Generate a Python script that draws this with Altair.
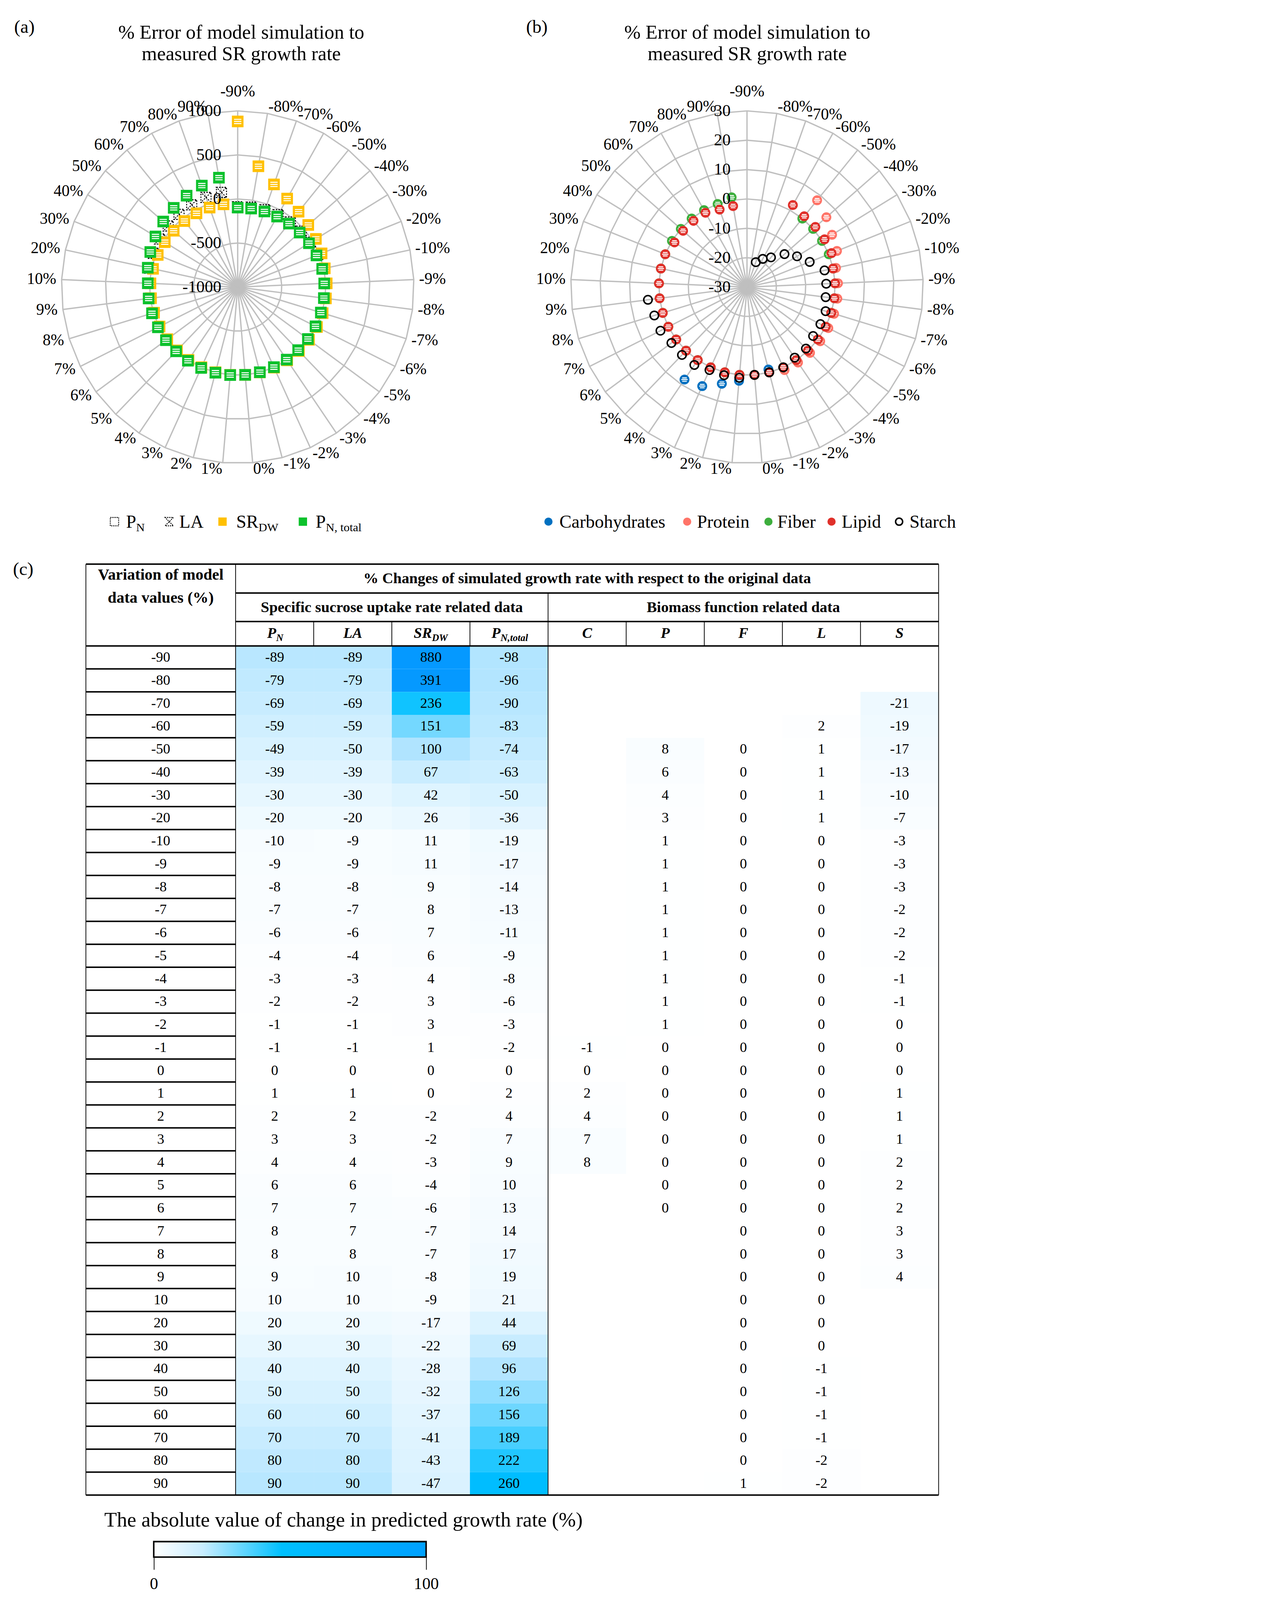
import altair as alt
import pandas as pd

N = None
variation = [-90, -80, -70, -60, -50, -40, -30, -20, -10,
             -9, -8, -7, -6, -5, -4, -3, -2, -1,
             0,
             1, 2, 3, 4, 5, 6, 7, 8, 9,
             10, 20, 30, 40, 50, 60, 70, 80, 90]
PN = [-89, -79, -69, -59, -49, -39, -30, -20, -10,
      -9, -8, -7, -6, -4, -3, -2, -1, -1,
      0,
      1, 2, 3, 4, 6, 7, 8, 8, 9,
      10, 20, 30, 40, 50, 60, 70, 80, 90]
LA = [-89, -79, -69, -59, -50, -39, -30, -20, -9,
      -9, -8, -7, -6, -4, -3, -2, -1, -1,
      0,
      1, 2, 3, 4, 6, 7, 7, 8, 10,
      10, 20, 30, 40, 50, 60, 70, 80, 90]
SR_DW = [880, 391, 236, 151, 100, 67, 42, 26, 11,
         11, 9, 8, 7, 6, 4, 3, 3, 1,
         0,
         0, -2, -2, -3, -4, -6, -7, -7, -8,
         -9, -17, -22, -28, -32, -37, -41, -43, -47]
PN_total = [-98, -96, -90, -83, -74, -63, -50, -36, -19,
            -17, -14, -13, -11, -9, -8, -6, -3, -2,
            0,
            2, 4, 7, 9, 10, 13, 14, 17, 19,
            21, 44, 69, 96, 126, 156, 189, 222, 260]
Carbohydrates = [N, N, N, N, N, N, N, N, N,
                 N, N, N, N, N, N, N, N, -1,
                 0,
                 2, 4, 7, 8, N, N, N, N, N,
                 N, N, N, N, N, N, N, N, N]
Protein = [N, N, N, N, 8, 6, 4, 3, 1,
           1, 1, 1, 1, 1, 1, 1, 1, 0,
           0,
           0, 0, 0, 0, 0, 0, N, N, N,
           N, N, N, N, N, N, N, N, N]
Fiber = [N, N, N, N, 0, 0, 0, 0, 0,
         0, 0, 0, 0, 0, 0, 0, 0, 0,
         0,
         0, 0, 0, 0, 0, 0, 0, 0, 0,
         0, 0, 0, 0, 0, 0, 0, 0, 1]
Lipid = [N, N, N, 2, 1, 1, 1, 1, 0,
         0, 0, 0, 0, 0, 0, 0, 0, 0,
         0,
         0, 0, 0, 0, 0, 0, 0, 0, 0,
         0, 0, 0, -1, -1, -1, -1, -2, -2]
Starch = [N, N, -21, -19, -17, -13, -10, -7, -3,
          -3, -3, -2, -2, -2, -1, -1, 0, 0,
          0,
          1, 1, 1, 2, 2, 2, 3, 3, 4,
          N, N, N, N, N, N, N, N, N]

category_labels = [f"{v}%" for v in variation]
rings_a = [-1000, -500, 0, 500, 1000]
rings_b = [-30, -20, -10, 0, 10, 20, 30]
title_lines = ["% Error of model simulation to", "measured SR growth rate"]
legend_b_names = ["Carbohydrates", "Protein", "Fiber", "Lipid", "Starch"]
legend_a_main = ["P", "LA", "SR", "P"]
legend_a_sub = ["N", "", "DW", "N, total"]
col_main = ["P", "LA", "SR", "P", "C", "P", "F", "L", "S"]
col_sub = ["N", "", "DW", "N,total", "", "", "", "", ""]
header_first = ["Variation of model", "data values (%)"]
header_top = "% Changes of simulated growth rate with respect to the original data"
header_groups = ["Specific sucrose uptake rate related data", "Biomass function related data"]
cbar_title = "The absolute value of change in predicted growth rate (%)"
cbar_ticks = [0, 100]

# ---------------- styling constants ----------------
S = 0.762          # overall drawing scale (keeps the whole figure inside the photographed area)
FONT = "Liberation Serif"
GRID = "#BFBFBF"
YELLOW = "#FFC000"
GREEN = "#0CC12C"
BLUE = "#0070C0"
SALMON = "#FF7468"
FGREEN = "#3DAE3D"
RED = "#E0302A"
NCAT = len(variation)
R_PX = 592.0
W_TOP, H_TOP = 1629, 1870
SQ_STRIPES = "M-0.72,-0.42H0.72M-0.72,0H0.72M-0.72,0.42H0.72"
CI_STRIPES = "M-0.55,-0.4H0.55M-0.74,0H0.74M-0.55,0.4H0.55"
HOURGLASS = "M-1,-1L1,-1L-1,1L1,1Z"
LABEL_GAP = 18


def px(v):
    return v * S


def area(v):
    return v * S * S


def long_df(series):
    rows = []
    for name, vals in series:
        for i, v in enumerate(vals):
            if v is not None:
                rows.append({"series": name, "idx": i, "value": v})
    return pd.DataFrame(rows)


def one_text(t, x, y, size, **kw):
    return (alt.Chart(pd.DataFrame({"t": [t]}))
            .mark_text(font=FONT, fontSize=px(size), color="black", **kw)
            .encode(x=alt.value(px(x)), y=alt.value(px(y)), text="t:N"))


def one_point(x, y, **kw):
    return (alt.Chart(pd.DataFrame({"t": [0]}))
            .mark_point(opacity=1, **kw)
            .encode(x=alt.value(px(x)), y=alt.value(px(y))))


def radar(series, styles, vmin, vmax, rings, cx, cy, title_x, tag, tag_x, extra):
    xs = alt.Scale(domain=[-cx / R_PX, (W_TOP - cx) / R_PX], nice=False, zero=False)
    ys = alt.Scale(domain=[-(H_TOP - cy) / R_PX, cy / R_PX], nice=False, zero=False)

    def X(f):
        return alt.X(f"{f}:Q", scale=xs, axis=None)

    def Y(f):
        return alt.Y(f"{f}:Q", scale=ys, axis=None)

    theta = f"datum.idx * 2 * PI / {NCAT}"
    span = vmax - vmin
    cat_df = pd.DataFrame({"idx": list(range(NCAT)), "label": category_labels})

    spokes = (alt.Chart(cat_df)
              .transform_calculate(th=theta)
              .transform_calculate(sx="sin(datum.th)")
              .transform_calculate(sy="cos(datum.th)")
              .transform_calculate(z="0")
              .mark_rule(color=GRID, strokeWidth=px(4.5))
              .encode(x=X("z"), y=Y("z"), x2="sx:Q", y2="sy:Q"))

    ring_rows = [{"ring": v, "idx": i} for v in rings if v > vmin for i in range(NCAT + 1)]
    ring_lines = (alt.Chart(pd.DataFrame(ring_rows))
                  .transform_calculate(th=theta)
                  .transform_calculate(r=f"(datum.ring - ({vmin})) / {span}")
                  .transform_calculate(x="datum.r * sin(datum.th)")
                  .transform_calculate(y="datum.r * cos(datum.th)")
                  .mark_line(color=GRID, strokeWidth=px(4.5))
                  .encode(x=X("x"), y=Y("y"), detail="ring:N", order="idx:Q"))

    ring_labels = (alt.Chart(pd.DataFrame({"ring": rings, "lab": [str(v) for v in rings]}))
                   .transform_calculate(r=f"(datum.ring - ({vmin})) / {span}")
                   .transform_calculate(z="0")
                   .mark_text(font=FONT, fontSize=px(56), align="right", dx=px(-55), color="black")
                   .encode(x=X("z"), y=Y("r"), text="lab:N"))

    ra = 1 + LABEL_GAP / R_PX
    sl_base = (alt.Chart(cat_df)
               .transform_calculate(th=theta)
               .transform_calculate(s="sin(datum.th)")
               .transform_calculate(c="cos(datum.th)")
               .transform_calculate(x=f"{ra} * datum.s")
               .transform_calculate(
                   y=f"{ra} * datum.c + (4 * datum.c + (datum.idx == 0 ? 42 : 0)) / {R_PX}"))
    spoke_labels = []
    for cond, al in [("datum.s > 0.001", "left"), ("datum.s < -0.001", "right"),
                     ("abs(datum.s) <= 0.001", "center")]:
        spoke_labels.append(sl_base.transform_filter(cond)
                            .mark_text(font=FONT, fontSize=px(54), color="black", align=al)
                            .encode(x=X("x"), y=Y("y"), text="label:N"))

    base = (alt.Chart(long_df(series))
            .transform_calculate(th=theta)
            .transform_calculate(r=f"(datum.value - ({vmin})) / {span}")
            .transform_calculate(x="datum.r * sin(datum.th)")
            .transform_calculate(y="datum.r * cos(datum.th)"))
    point_layers = []
    for name, mark_list in styles:
        for mk in mark_list:
            point_layers.append(base.transform_filter(alt.datum.series == name)
                                .mark_point(opacity=1, **mk)
                                .encode(x=X("x"), y=Y("y")))

    texts = [one_text(title_lines[0], title_x, 100, 66),
             one_text(title_lines[1], title_x, 172, 66),
             one_text(tag, tag_x, 82, 62, align="left")]

    return alt.layer(spokes, ring_lines, *point_layers, ring_labels, *spoke_labels,
                     *texts, *extra).properties(width=px(W_TOP), height=px(H_TOP))


# ---------- panel (a) ----------
sq = area(1156)
dash = [px(5), px(4)]
styles_a = [
    ("PN", [dict(shape="square", filled=False, stroke="black", strokeWidth=px(3),
                 strokeDash=dash, size=sq)]),
    ("LA", [dict(shape=HOURGLASS, filled=False, stroke="black", strokeWidth=px(3),
                 strokeDash=dash, size=sq)]),
    ("SR", [dict(shape="square", filled=True, fill=YELLOW, stroke=YELLOW, strokeWidth=px(5), size=sq),
            dict(shape=SQ_STRIPES, filled=False, stroke="white", strokeWidth=px(3.5), size=sq)]),
    ("PNT", [dict(shape="square", filled=True, fill=GREEN, stroke=GREEN, strokeWidth=px(5), size=sq),
             dict(shape=SQ_STRIPES, filled=False, stroke="white", strokeWidth=px(3.5), size=sq)]),
]
LEG_Y = 1742
leg_a = [
    one_point(374, LEG_Y, shape="square", filled=False, stroke="black", strokeWidth=px(3),
              strokeDash=[px(4), px(3)], size=area(784)),
    one_text(legend_a_main[0], 413, LEG_Y + 20, 61, align="left", baseline="alphabetic"),
    one_text(legend_a_sub[0], 447, LEG_Y + 32, 40, align="left", baseline="alphabetic"),
    one_point(558, LEG_Y, shape=HOURGLASS, filled=False, stroke="black", strokeWidth=px(3),
              strokeDash=[px(4), px(3)], size=area(784)),
    one_text(legend_a_main[1], 592, LEG_Y + 20, 61, align="left", baseline="alphabetic"),
    one_point(737, LEG_Y, shape="square", filled=True, fill=YELLOW, strokeWidth=0, size=area(784)),
    one_text(legend_a_main[2], 783, LEG_Y + 20, 61, align="left", baseline="alphabetic"),
    one_text(legend_a_sub[2], 858, LEG_Y + 32, 40, align="left", baseline="alphabetic"),
    one_point(1007, LEG_Y, shape="square", filled=True, fill=GREEN, strokeWidth=0, size=area(784)),
    one_text(legend_a_main[3], 1050, LEG_Y + 20, 61, align="left", baseline="alphabetic"),
    one_text(legend_a_sub[3], 1084, LEG_Y + 32, 40, align="left", baseline="alphabetic"),
]
radar_a = radar([("PN", PN), ("LA", LA), ("SR", SR_DW), ("PNT", PN_total)], styles_a,
                -1000, 1000, rings_a, 788, 954, 800, "(a)", 37, leg_a)

# ---------- panel (b) ----------
cs = area(800)


def filled_circle(color):
    return [dict(shape="circle", filled=True, fill=color, stroke=color, strokeWidth=px(5), size=cs),
            dict(shape=CI_STRIPES, filled=False, stroke="white", strokeWidth=px(3.5), size=cs)]


styles_b = [
    ("C", filled_circle(BLUE)),
    ("P", filled_circle(SALMON)),
    ("F", filled_circle(FGREEN)),
    ("L", filled_circle(RED)),
    ("S", [dict(shape="circle", filled=False, stroke="black", strokeWidth=px(5), size=cs)]),
]
leg_b = []
leg_b_pos = [(202, 239, BLUE), (668, 701, SALMON), (941, 971, FGREEN), (1153, 1187, RED),
             (1380, 1415, None)]
for name, (mx, tx, colr) in zip(legend_b_names, leg_b_pos):
    if colr is None:
        leg_b.append(one_point(mx, LEG_Y, shape="circle", filled=False, stroke="black",
                               strokeWidth=px(5), size=area(560)))
    else:
        leg_b.append(one_point(mx, LEG_Y, shape="circle", filled=True, fill=colr,
                               strokeWidth=0, size=area(750)))
    leg_b.append(one_text(name, tx, LEG_Y + 20, 61, align="left", baseline="alphabetic"))

radar_b = radar([("C", Carbohydrates), ("P", Protein), ("F", Fiber), ("L", Lipid), ("S", Starch)],
                styles_b, -30, 30, rings_b, 869, 954, 870, "(b)", 127, leg_b)

# ---------- panel (c): table ----------
COLW, ROWH = 262.4, 77.1
FW = 503 / COLW
H1, H2, H3 = 97 / ROWH, 96 / ROWH, 82 / ROWH
Y0 = -(H1 + H2 + H3)
Y1 = -(H2 + H3)
Y2 = -H3
NR = len(variation)
NC = 9
W_TAB, H_TAB = 3258, 3150
X_LEFT_PX, Y_TOP_PX = 781, 12
ymin = Y0 - Y_TOP_PX / ROWH
xs_t = alt.Scale(domain=[-X_LEFT_PX / COLW, (W_TAB - X_LEFT_PX) / COLW], nice=False, zero=False)
ys_t = alt.Scale(domain=[ymin, ymin + H_TAB / ROWH], nice=False, zero=False, reverse=True)


def XT(f):
    return alt.X(f"{f}:Q", scale=xs_t, axis=None)


def YT(f):
    return alt.Y(f"{f}:Q", scale=ys_t, axis=None)


table_cols = [PN, LA, SR_DW, PN_total, Carbohydrates, Protein, Fiber, Lipid, Starch]
cells = [dict(c=c, r=r, v=abs(v), t=str(v))
         for c, col in enumerate(table_cols) for r, v in enumerate(col) if v is not None]
cell_base = (alt.Chart(pd.DataFrame(cells))
             .transform_calculate(x0="datum.c", x1="datum.c + 1", y0="datum.r", y1="datum.r + 1",
                                  xc="datum.c + 0.5", yc="datum.r + 0.5"))
cscale = alt.Scale(domain=[0, 100, 250, 391],
                   range=["#ffffff", "#b0e4ff", "#00c0ff", "#0599ff"],
                   clamp=True, interpolate="rgb")
cell_rects = cell_base.mark_rect().encode(
    x=XT("x0"), x2="x1:Q", y=YT("y0"), y2="y1:Q",
    color=alt.Color("v:Q", scale=cscale, legend=None))
cell_texts = cell_base.mark_text(font=FONT, fontSize=px(48), color="black").encode(
    x=XT("xc"), y=YT("yc"), text="t:N")

row_df = pd.DataFrame({"r": list(range(NR)), "t": [str(v) for v in variation]})
row_texts = (alt.Chart(row_df)
             .transform_calculate(xc=f"{-FW / 2}", yc="datum.r + 0.5")
             .mark_text(font=FONT, fontSize=px(48), color="black")
             .encode(x=XT("xc"), y=YT("yc"), text="t:N"))

segs = []


def seg(x0, x1, y0, y1, w):
    segs.append(dict(x0=x0, x1=x1, y0=y0, y1=y1, w=w))


THICK, THIN = px(5), px(2.5)
seg(-FW, NC, Y0, Y0, THICK)
seg(0, NC, Y1, Y1, THICK)
seg(0, NC, Y2, Y2, THICK)
seg(-FW, NC, 0, 0, THICK)
for r in range(1, NR):
    seg(-FW, 0, r, r, THICK)
seg(-FW, NC, NR, NR, THICK)
seg(-FW, -FW, Y0, NR, THIN)
seg(0, 0, Y0, NR, THIN)
seg(NC, NC, Y0, NR, THIN)
seg(4, 4, Y1, NR, THIN)
for c in [1, 2, 3, 5, 6, 7, 8]:
    seg(c, c, Y2, 0, THIN)
grid_rules = (alt.Chart(pd.DataFrame(segs))
              .mark_rule(color="black")
              .encode(x=XT("x0"), x2="x1:Q", y=YT("y0"), y2="y1:Q",
                      strokeWidth=alt.StrokeWidth("w:Q", scale=None)))

hdr1_df = pd.DataFrame({
    "x": [-FW / 2, -FW / 2],
    "y": [-3.10, -2.09],
    "t": [header_first[0], header_first[1]],
})
hdr1_texts = (alt.Chart(hdr1_df)
              .mark_text(font=FONT, fontSize=px(53), fontWeight="bold", color="black")
              .encode(x=XT("x"), y=YT("y"), text="t:N"))
hdr_df = pd.DataFrame({
    "x": [NC / 2, 2, 6.5],
    "y": [(Y0 + Y1) / 2, (Y1 + Y2) / 2, (Y1 + Y2) / 2],
    "t": [header_top, header_groups[0], header_groups[1]],
})
hdr_texts = (alt.Chart(hdr_df)
             .mark_text(font=FONT, fontSize=px(51), fontWeight="bold", color="black")
             .encode(x=XT("x"), y=YT("y"), text="t:N"))

# column labels (with subscripts)
sub_off_px = {0: 5, 2: 3.5, 3: -28.5}
BASE_Y = -0.36
main_rows, sub_rows, plain_rows = [], [], []
for c, (m, s) in enumerate(zip(col_main, col_sub)):
    if s:
        xx = c + 0.5 + sub_off_px[c] / COLW
        main_rows.append(dict(x=xx, y=BASE_Y, t=m))
        sub_rows.append(dict(x=xx, y=BASE_Y + 11 / ROWH, t=s))
    else:
        plain_rows.append(dict(x=c + 0.5, y=BASE_Y, t=m))
col_main_r = (alt.Chart(pd.DataFrame(main_rows))
              .mark_text(font=FONT, fontSize=px(50), fontWeight="bold", fontStyle="italic",
                         align="right", baseline="alphabetic", color="black")
              .encode(x=XT("x"), y=YT("y"), text="t:N"))
col_sub_r = (alt.Chart(pd.DataFrame(sub_rows))
             .mark_text(font=FONT, fontSize=px(33), fontWeight="bold", fontStyle="italic",
                        align="left", baseline="alphabetic", color="black")
             .encode(x=XT("x"), y=YT("y"), text="t:N"))
col_plain = (alt.Chart(pd.DataFrame(plain_rows))
             .mark_text(font=FONT, fontSize=px(50), fontWeight="bold", fontStyle="italic",
                        baseline="alphabetic", color="black")
             .encode(x=XT("x"), y=YT("y"), text="t:N"))

tag_c = one_text("(c)", 33, 30, 62, align="left")

table = alt.layer(cell_rects, grid_rules, cell_texts, row_texts, hdr1_texts, hdr_texts,
                  col_main_r, col_sub_r, col_plain, tag_c).properties(width=px(W_TAB),
                                                                      height=px(H_TAB))

# ---------- colour bar ----------
W_CB, H_CB = 3258, 197
CB_X0_PX, CB_X1_PX = 506, 1421
BAR_H = 52
cb_unit = (CB_X1_PX - CB_X0_PX) / (cbar_ticks[-1] - cbar_ticks[0])
xs_c = alt.Scale(domain=[cbar_ticks[0] - CB_X0_PX / cb_unit,
                         cbar_ticks[0] + (W_CB - CB_X0_PX) / cb_unit], nice=False, zero=False)
ys_c = alt.Scale(domain=[0, H_CB / BAR_H], nice=False, zero=False)
grad = alt.Gradient(gradient="linear", x1=0, x2=1, y1=0, y2=0, stops=[
    alt.GradientStop(offset=0, color="#ffffff"),
    alt.GradientStop(offset=0.18, color="#c8edff"),
    alt.GradientStop(offset=0.47, color="#00c0ff"),
    alt.GradientStop(offset=1, color="#00a0ff"),
])
cb_df = pd.DataFrame({"x0": [cbar_ticks[0]], "x1": [cbar_ticks[-1]], "y0": [0], "y1": [1]})
cbar_rect = (alt.Chart(cb_df)
             .mark_rect(fill=grad, stroke="black", strokeWidth=px(5))
             .encode(x=alt.X("x0:Q", scale=xs_c,
                             axis=alt.Axis(values=cbar_ticks, tickSize=px(42), tickWidth=px(2.5),
                                           tickColor="black", domain=False, grid=False,
                                           labelFont=FONT, labelFontSize=px(56),
                                           labelColor="black", labelPadding=px(20),
                                           labelFlush=False, title="")),
                     x2="x1:Q",
                     y=alt.Y("y0:Q", scale=ys_c, axis=None), y2="y1:Q"))
cbar_text = one_text(cbar_title, 340, 94, 69, align="left", baseline="alphabetic")
cbar = alt.layer(cbar_rect, cbar_text).properties(width=px(W_CB), height=px(H_CB))

top = alt.hconcat(radar_a, radar_b, spacing=0, bounds="flush")
chart = (alt.vconcat(top, table, cbar, spacing=0)
         .properties(padding=0)
         .configure_view(strokeWidth=0))

chart.save("out.html", embed_options={"renderer": "svg", "actions": False})
